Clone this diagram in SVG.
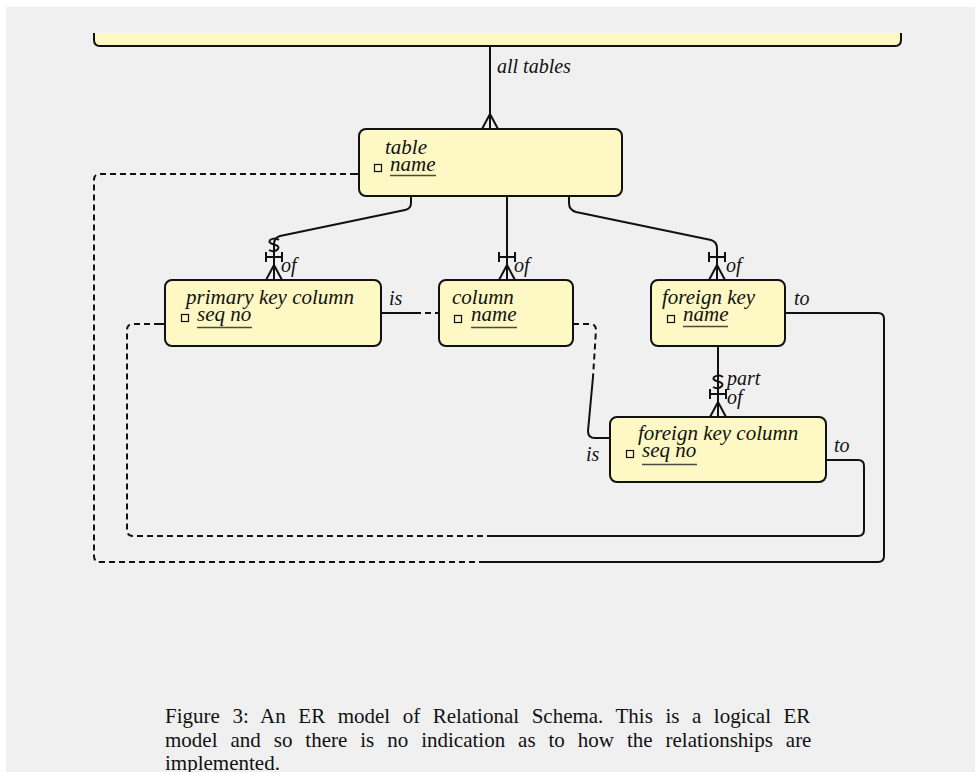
<svg xmlns="http://www.w3.org/2000/svg" width="975" height="772" viewBox="0 0 975 772">
  <defs>
    <style>
      .ent { fill: #fef8c4; stroke: #111; stroke-width: 2; }
      .title { font-family: "Liberation Serif", "Times New Roman", serif; font-style: italic; font-size: 21px; fill: #111; }
      .lbl { font-family: "Liberation Serif", "Times New Roman", serif; font-style: italic; font-size: 20px; fill: #111; }
      .key { fill: none; stroke: #111; stroke-width: 1.2; }
      .ul { stroke: #4a4a44; stroke-width: 1.6; }
      .ln { fill: none; stroke: #111; stroke-width: 2; stroke-linejoin: round; }
      .dash { fill: none; stroke: #111; stroke-width: 2; stroke-dasharray: 6 4; }
      .cap { font-family: "Liberation Serif", "Times New Roman", serif; font-size: 21px; fill: #111; }
    </style>
    <!-- one-and-many end: bar + crow's foot, box edge at y=0, line arriving from above -->
    <g id="oneMany">
      <path class="ln" d="M-8,-23 L8,-23 M-8,-28 L-8,-18 M8,-28 L8,-18 M0,-15 L-8,0 M0,-15 L8,0 M0,-15 L0,0"/>
    </g>
    <!-- non-transferable mark -->
    <path id="squig" class="ln" d="M5,-40 Q1,-43 -4,-40 Q-6,-37 0,-35.5 Q6,-34 4,-31 Q0,-27 -5,-30"/>
    <!-- crow's foot only -->
    <path id="many" class="ln" d="M0,-15 L-8,0 M0,-15 L8,0 M0,-15 L0,0"/>
  </defs>

  <rect x="0" y="0" width="975" height="772" fill="#ffffff"/>
  <rect x="6" y="7" width="969" height="765" fill="#f0f0f0"/>

  <!-- connectors -->
  <g id="connectors">
    <!-- all tables -->
    <path class="ln" d="M490,46 L490,129"/>
    <use href="#many" x="490" y="129"/>
    <text class="lbl" x="497" y="73">all tables</text>

    <!-- table to primary key column -->
    <path class="ln" d="M411,196 L411,203 Q411,209 405,210 L280,236 Q274,238 274,244 L274,280"/>
    <use href="#squig" x="274" y="280"/>
    <use href="#oneMany" x="274" y="280"/>
    <text class="lbl" x="281" y="272">of</text>

    <!-- table to column -->
    <path class="ln" d="M507,196 L507,280"/>
    <use href="#oneMany" x="507" y="280"/>
    <text class="lbl" x="514" y="272">of</text>

    <!-- table to foreign key -->
    <path class="ln" d="M569,196 L569,203 Q569,210 576,212 L711,240 Q717,242 717,248 L717,280"/>
    <use href="#oneMany" x="717" y="280"/>
    <text class="lbl" x="726" y="272">of</text>

    <!-- foreign key to foreign key column -->
    <path class="ln" d="M718,346 L718,417"/>
    <use href="#squig" x="718" y="417"/>
    <use href="#oneMany" x="718" y="417"/>
    <text class="lbl" x="727" y="385">part</text>
    <text class="lbl" x="727" y="404">of</text>

    <!-- primary key column is column -->
    <path class="ln" d="M381,313 L415,313"/>
    <path class="dash" d="M415,313 L439,313"/>
    <text class="lbl" x="389" y="305">is</text>

    <!-- column to foreign key column -->
    <path class="dash" d="M573,324 L590,324 Q596,324 596,330 L593,377"/>
    <path class="ln" d="M593,377 L588,431 Q588,438 595,438 L610,438"/>
    <use href="#many" transform="translate(610,438) rotate(90)"/>
    <text class="lbl" x="586" y="461">is</text>

    <!-- foreign key to table -->
    <path class="ln" d="M785,313 L878,313 Q884,313 884,319 L884,556 Q884,562 878,562 L485,562"/>
    <path class="dash" d="M485,562 L100,562 Q94,562 94,556 L94,180 Q94,174 100,174 L353,174"/>
    <path class="ln" d="M353,174 L359,174"/>
    <use href="#many" transform="translate(785,313) rotate(-90)"/>
    <text class="lbl" x="794" y="305">to</text>

    <!-- foreign key column to primary key column -->
    <path class="ln" d="M826,460 L858,460 Q864,460 864,466 L864,530 Q864,536 858,536 L493,536"/>
    <path class="dash" d="M493,536 L133,536 Q127,536 127,530 L127,330 Q127,324 133,324 L159,324"/>
    <path class="ln" d="M159,324 L165,324"/>
    <use href="#many" transform="translate(826,460) rotate(-90)"/>
    <text class="lbl" x="834" y="452">to</text>
  </g>

  <!-- schema (clipped at the top edge) -->
  <g id="schema">
    <path fill="#fef8c4" d="M94,33 L901,33 L901,40 Q901,46 895,46 L100,46 Q94,46 94,40 Z"/>
    <path class="ln" d="M94,33 L94,40 Q94,46 100,46 L895,46 Q901,46 901,40 L901,33"/>
  </g>

  <g id="table">
    <rect class="ent" x="359" y="129" width="263" height="67" rx="7"/>
    <text class="title" x="385" y="154">table</text>
    <rect class="key" x="374.5" y="164.5" width="7" height="7"/>
    <text class="title" x="390" y="171">name</text>
    <line class="ul" x1="390" y1="175.5" x2="436" y2="175.5"/>
  </g>

  <g id="primary-key-column">
    <rect class="ent" x="165" y="280" width="216" height="66" rx="7"/>
    <text class="title" x="186" y="304">primary key column</text>
    <rect class="key" x="181.5" y="314.5" width="7" height="7"/>
    <text class="title" x="197" y="321">seq no</text>
    <line class="ul" x1="197" y1="327.5" x2="252" y2="327.5"/>
  </g>

  <g id="column">
    <rect class="ent" x="439" y="280" width="134" height="66" rx="7"/>
    <text class="title" x="452" y="304">column</text>
    <rect class="key" x="454.5" y="315.5" width="7" height="7"/>
    <text class="title" x="471" y="321">name</text>
    <line class="ul" x1="471" y1="327.5" x2="517" y2="327.5"/>
  </g>

  <g id="foreign-key">
    <rect class="ent" x="651" y="280" width="134" height="66" rx="7"/>
    <text class="title" x="662" y="304">foreign key</text>
    <rect class="key" x="667.5" y="315.5" width="7" height="7"/>
    <text class="title" x="683" y="321">name</text>
    <line class="ul" x1="683" y1="326.5" x2="728" y2="326.5"/>
  </g>

  <g id="foreign-key-column">
    <rect class="ent" x="610" y="417" width="216" height="65" rx="7"/>
    <text class="title" x="638" y="440">foreign key column</text>
    <rect class="key" x="626.5" y="450.5" width="7" height="7"/>
    <text class="title" x="642" y="457">seq no</text>
    <line class="ul" x1="642" y1="464.5" x2="697" y2="464.5"/>
  </g>

  <!-- caption -->
  <g id="caption">
    <text class="cap" x="165" y="723" word-spacing="7.3">Figure 3: An ER model of Relational Schema. This is a logical ER</text>
    <text class="cap" x="165" y="747" word-spacing="7.7">model and so there is no indication as to how the relationships are</text>
    <text class="cap" x="165" y="770">implemented.</text>
  </g>
</svg>
